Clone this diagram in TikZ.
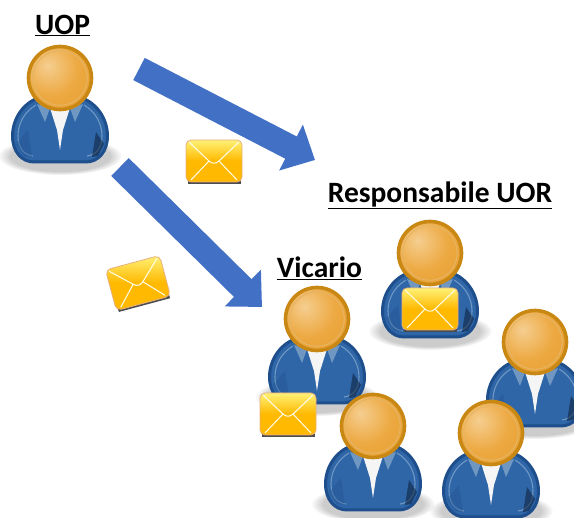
\documentclass[tikz,border=0pt]{standalone}
\usepackage{fontspec}
\setmainfont{Carlito}
\usetikzlibrary{arrows.meta,shadings,fadings}
\definecolor{arrowblue}{HTML}{4270C4}
\definecolor{suit}{HTML}{2F66A8}
\definecolor{suitdark}{HTML}{1E4E8C}
\definecolor{suitlight}{HTML}{6F97C2}
\definecolor{headring}{HTML}{C98714}
\definecolor{headlight}{HTML}{F5CE90}
\definecolor{headmid}{HTML}{EDA942}
\definecolor{headedge}{HTML}{E29A28}
\definecolor{envtop}{HTML}{FFF176}
\definecolor{envbody}{HTML}{FFB900}
\definecolor{envedge}{HTML}{E8B080}
\pgfdeclareradialshading{headshade}{\pgfpoint{-10bp}{10bp}}{color(0bp)=(headlight);color(22bp)=(headmid);color(50bp)=(headedge);color(100bp)=(headedge)}
\tikzset{
  bigarrow/.style={draw=arrowblue,line width=25pt,-{Triangle[length=27pt,width=50pt]}},
  lbl/.style={font=\bfseries\fontsize{29.5}{32}\selectfont,text=black,inner sep=0pt},
  person/.pic={
    \fill[black,opacity=.2,path fading=circle with fuzzy edge 20 percent] (0,78) ellipse [x radius=62,y radius=19];
    \path[draw=suitdark,line width=3pt,fill=suit]
      (-22,20) .. controls (-38,26) and (-47.5,42) .. (-47.5,58)
      .. controls (-47.5,74) and (-38,84) .. (-26,84) -- (26,84)
      .. controls (38,84) and (47.5,74) .. (47.5,58)
      .. controls (47.5,42) and (38,26) .. (22,20) -- cycle;
    \draw[suitlight,line width=1.1pt]
      (-24,27) .. controls (-36,34) and (-42,46) .. (-42,58)
      .. controls (-42,70) and (-36,77) .. (-27,78)
      (24,27) .. controls (36,34) and (42,46) .. (42,58)
      .. controls (42,70) and (36,77) .. (27,78);
    \fill[suitdark,opacity=.35] (-44,66) -- (-32,52) -- (-28,79) -- (-36,78) -- cycle;
    \fill[black!60!suitdark,opacity=.55] (44,66) -- (36,54) -- (32,79) -- (38,78) -- cycle;
    \fill[white!92!gray] (-10,30) -- (10,30) -- (3,52) -- (0,72) -- (-3,52) -- cycle;
    \fill[suitlight] (-23,26) -- (-10,30) -- (-15,44) -- cycle;
    \fill[suitlight] (23,26) -- (10,30) -- (15,44) -- cycle;
    \path[draw=headring,line width=3.6pt,shading=headshade] (0,0) circle [radius=31.5];
    \draw[headring!35!headlight,line width=1pt] (0,0) circle [radius=27.3];
  },
  mail/.pic={
    \fill[black!70] (-26,-18) rectangle (27,23);
    \path[draw=envedge,line width=.8pt,top color=envtop,bottom color=envbody,middle color=envbody,rounded corners=5pt]
      (-28,-21) rectangle (28,21);
    \draw[white!85!envtop,line width=1pt,line join=round]
      (-25,-19) -- (-5,0) .. controls (-2,3) and (2,3) .. (5,0) -- (25,-19)
      (-5,0) -- (-23,19) (5,0) -- (23,19);
  }
}
\begin{document}
\begin{tikzpicture}[x=1pt,y=-1pt]
\useasboundingbox (0,0) rectangle (574,518);
% arrows
\coordinate (a1s) at (139,69);
\coordinate (a1e) at (315,160);
\coordinate (a2s) at (120,167);
\coordinate (a2e) at (262,307);
\draw[bigarrow] (a1s) -- (a1e);
\draw[bigarrow] (a2s) -- (a2e);
% people
\pic (p1) at (60,78) {person};
\pic (p2) at (430,253) {person};
\pic (p3) at (535,342) {person};
\pic (p4) at (317,319) {person};
\pic (p5) at (373,426) {person};
\pic (p6) at (491,433) {person};
% envelopes
\pic (m1) at (214,161) {mail};
\pic (m2) [rotate=15] at (138,283) {mail};
\pic (m3) at (430,309) {mail};
\pic (m4) at (288,414) {mail};
% labels
\node[lbl] (uop) at (62.5,25.5) {\underline{UOP}};
\node[lbl] (resp) at (440,195) {\underline{Responsabile UOR}};
\node[lbl] (vic) at (319.5,268) {\underline{Vicario}};
\end{tikzpicture}
\end{document}
